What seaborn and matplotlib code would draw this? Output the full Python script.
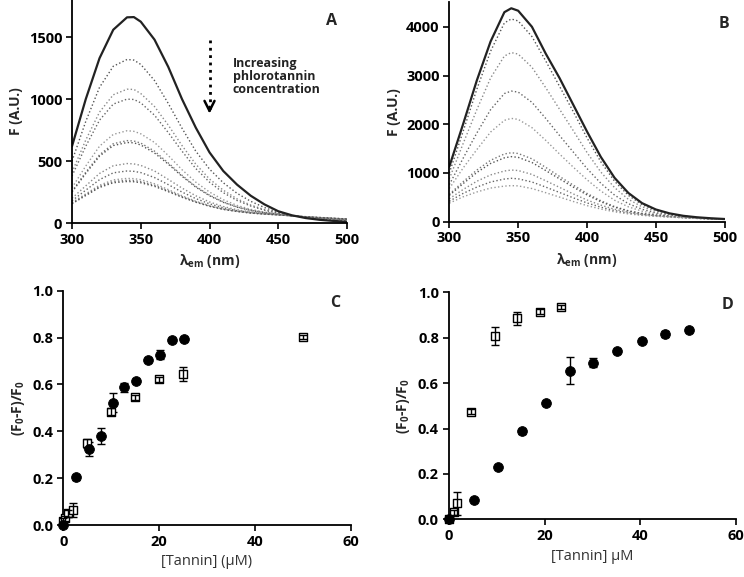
import numpy as np
import pandas as pd
import matplotlib
matplotlib.use('Agg')
import matplotlib.pyplot as plt
import seaborn as sns

sns.set_style("ticks")
plt.rcParams['font.family'] = ['Open Sans', 'DejaVu Sans']
plt.rcParams['mathtext.fontset'] = 'custom'
plt.rcParams['mathtext.rm'] = 'Open Sans'
plt.rcParams['mathtext.bf'] = 'Open Sans:bold'

# comprimentos de onda (nm)
wl = [300, 310, 320, 330, 340, 345, 350, 360, 370, 380, 390, 400,
      410, 420, 430, 440, 450, 460, 470, 480, 490, 500]

# Painel A - espectros de emissao
A_solid = [620, 1000, 1330, 1560, 1660, 1662, 1625, 1480, 1260, 1000, 770, 570,
           420, 310, 220, 150, 95, 62, 40, 26, 17, 10]
A_dotted = [
    [500, 820, 1095, 1265, 1320, 1315, 1280, 1150, 965, 765, 580, 435, 325, 240, 175, 125, 85, 60, 45, 35, 28, 22],
    [410, 670, 895, 1035, 1080, 1078, 1045, 940, 790, 625, 475, 355, 265, 195, 145, 108, 80, 60, 47, 37, 30, 24],
    [380, 620, 830, 960, 1000, 997, 970, 870, 730, 580, 440, 330, 245, 182, 137, 103, 78, 60, 47, 38, 31, 25],
    [285, 460, 620, 715, 745, 740, 720, 650, 545, 430, 330, 250, 188, 142, 110, 88, 72, 58, 48, 40, 33, 27],
    [255, 410, 550, 640, 665, 662, 645, 580, 485, 385, 295, 225, 170, 130, 103, 84, 70, 58, 48, 40, 34, 28],
    [250, 400, 540, 625, 650, 647, 630, 565, 475, 377, 290, 220, 167, 128, 101, 83, 70, 58, 48, 41, 34, 28],
    [200, 300, 400, 462, 480, 477, 465, 420, 352, 282, 220, 170, 133, 107, 89, 77, 68, 58, 49, 42, 36, 30],
    [180, 265, 350, 405, 420, 417, 407, 367, 310, 250, 197, 155, 123, 100, 85, 75, 67, 58, 50, 43, 37, 31],
    [165, 235, 305, 348, 360, 358, 350, 317, 270, 220, 176, 140, 113, 95, 82, 73, 66, 58, 50, 44, 38, 32],
    [160, 228, 295, 335, 345, 343, 335, 305, 260, 213, 171, 137, 111, 94, 81, 72, 66, 58, 51, 44, 38, 32],
    [155, 222, 287, 325, 335, 333, 325, 296, 253, 208, 168, 135, 110, 93, 80, 72, 65, 58, 51, 45, 39, 33],
]

# Painel B - espectros de emissao
B_solid = [1130, 2000, 2900, 3700, 4300, 4380, 4330, 4000, 3450, 2950, 2400, 1850,
           1330, 900, 590, 380, 250, 170, 120, 90, 70, 55]
B_dotted = [
    [1000, 1850, 2720, 3500, 4080, 4160, 4120, 3800, 3300, 2780, 2260, 1720, 1230, 830, 540, 350, 230, 160, 115, 85, 65, 50],
    [880, 1600, 2300, 2950, 3400, 3470, 3440, 3170, 2750, 2310, 1870, 1420, 1020, 700, 460, 305, 210, 150, 110, 82, 63, 50],
    [760, 1300, 1820, 2300, 2630, 2680, 2660, 2450, 2120, 1770, 1430, 1090, 790, 545, 370, 255, 180, 135, 100, 78, 62, 50],
    [680, 1100, 1480, 1840, 2080, 2120, 2100, 1930, 1670, 1390, 1120, 860, 630, 440, 305, 215, 160, 122, 95, 76, 60, 50],
    [560, 820, 1060, 1260, 1390, 1415, 1400, 1290, 1115, 930, 750, 580, 430, 310, 225, 170, 135, 110, 88, 72, 58, 48],
    [540, 780, 1010, 1195, 1310, 1335, 1320, 1215, 1050, 880, 710, 550, 410, 298, 218, 165, 132, 108, 87, 71, 58, 48],
    [470, 660, 830, 960, 1040, 1060, 1050, 970, 840, 705, 570, 445, 340, 255, 193, 150, 122, 102, 84, 69, 57, 47],
    [420, 580, 710, 815, 875, 890, 880, 815, 710, 600, 490, 385, 298, 228, 176, 140, 116, 98, 82, 68, 56, 47],
    [380, 510, 610, 690, 730, 740, 735, 680, 595, 505, 415, 330, 260, 203, 160, 130, 110, 94, 80, 67, 56, 46],
]

# Painel C - supressao
C_circ_x = [0, 2.6, 5.4, 7.8, 10.3, 12.7, 15.2, 17.7, 20.2, 22.7, 25.1]
C_circ_y = [0.0, 0.204, 0.323, 0.381, 0.522, 0.588, 0.615, 0.705, 0.727, 0.790, 0.795]
C_circ_e = [0.005, 0.01, 0.03, 0.035, 0.04, 0.02, 0.01, 0.01, 0.02, 0.01, 0.008]
C_sq_x = [0, 0.35, 1.0, 2.0, 5.0, 10.0, 15.0, 20.0, 25.0, 50.0]
C_sq_y = [0.018, 0.029, 0.05, 0.065, 0.349, 0.484, 0.545, 0.622, 0.645, 0.803]
C_sq_e = [0.01, 0.01, 0.015, 0.03, 0.02, 0.015, 0.01, 0.01, 0.03, 0.01]

# Painel D - supressao
D_circ_x = [0, 5.2, 10.3, 15.3, 20.2, 25.2, 30.1, 35.2, 40.3, 45.2, 50.2]
D_circ_y = [0.0, 0.085, 0.231, 0.388, 0.514, 0.655, 0.689, 0.741, 0.787, 0.816, 0.834]
D_circ_e = [0.005, 0.005, 0.005, 0.012, 0.008, 0.058, 0.02, 0.01, 0.008, 0.015, 0.008]
D_sq_x = [0, 1.0, 1.8, 4.7, 9.6, 14.3, 19.0, 23.5]
D_sq_y = [0.0, 0.03, 0.07, 0.474, 0.808, 0.885, 0.915, 0.934]
D_sq_e = [0.005, 0.01, 0.05, 0.01, 0.04, 0.03, 0.01, 0.008]

greys = ['#555555', '#8a8a8a', '#666666', '#999999', '#777777']

fig = plt.figure(figsize=(7.44, 5.77), dpi=100)
axA = fig.add_axes([0.0968, 0.6135, 0.3696, 0.3865])
axB = fig.add_axes([0.6039, 0.6158, 0.3702, 0.3800])
axC = fig.add_axes([0.0851, 0.0901, 0.3863, 0.4060])
axD = fig.add_axes([0.6031, 0.1000, 0.3866, 0.3934])

lab_kw = dict(fontsize=10, fontweight='bold')


def estilo(ax):
    sns.despine(ax=ax)
    for s in ['left', 'bottom']:
        ax.spines[s].set_linewidth(1.3)
        ax.spines[s].set_color('black')
    ax.tick_params(direction='out', length=4, width=1.2, colors='black', pad=3)
    for t in ax.get_xticklabels() + ax.get_yticklabels():
        t.set_fontsize(10.5)
        t.set_fontweight('bold')


# Gráfico A
for i, c in enumerate(A_dotted):
    sns.lineplot(x=wl, y=c, ax=axA, color=greys[i % len(greys)], lw=1.0, linestyle=':')
sns.lineplot(x=wl, y=A_solid, ax=axA, color='#222222', lw=1.6)
axA.set_xlim(300, 500)
axA.set_ylim(0, 1800)
axA.set_xticks([300, 350, 400, 450, 500])
axA.set_yticks([0, 500, 1000, 1500])
axA.set_xlabel(r'$\mathbf{\lambda_{em}}$ (nm)', **lab_kw)
axA.set_ylabel('F (A.U.)', **lab_kw)
axA.plot([400, 400], [1480, 900], color='black', lw=2, linestyle=':')
axA.annotate('', xy=(400, 860), xytext=(400, 960),
             arrowprops=dict(arrowstyle='->', lw=1.8, color='black', mutation_scale=18))
axA.text(417, 1340, 'Increasing\nphlorotannin\nconcentration', fontsize=9,
         fontweight='bold', va='top', ha='left', color='#222222', linespacing=1.0)
axA.text(0.945, 0.906, 'A', transform=axA.transAxes, fontsize=11.5, fontweight='bold',
         ha='center', va='center')
estilo(axA)

# Gráfico B
for i, c in enumerate(B_dotted):
    sns.lineplot(x=wl, y=c, ax=axB, color=greys[i % len(greys)], lw=1.0, linestyle=':')
sns.lineplot(x=wl, y=B_solid, ax=axB, color='#222222', lw=1.6)
axB.set_xlim(300, 500)
axB.set_ylim(0, 4500)
axB.set_xticks([300, 350, 400, 450, 500])
axB.set_yticks([0, 1000, 2000, 3000, 4000])
axB.set_xlabel(r'$\mathbf{\lambda_{em}}$ (nm)', **lab_kw)
axB.set_ylabel('F (A.U.)', **lab_kw)
axB.text(0.996, 0.90, 'B', transform=axB.transAxes, fontsize=11.5, fontweight='bold',
         ha='center', va='center')
estilo(axB)


def supressao(ax, cx, cy, ce, sx, sy, se):
    ax.errorbar(sx, sy, yerr=se, fmt='none', ecolor='black', elinewidth=1,
                capsize=3, capthick=1, zorder=4, clip_on=False)
    ax.errorbar(cx, cy, yerr=ce, fmt='none', ecolor='black', elinewidth=1,
                capsize=3, capthick=1, zorder=2, clip_on=False)
    sns.scatterplot(x=sx, y=sy, ax=ax, marker='s', s=32, facecolor='white',
                    edgecolor='black', linewidth=1, zorder=3, clip_on=False)
    sns.scatterplot(x=cx, y=cy, ax=ax, marker='o', s=50, color='black',
                    edgecolor='black', zorder=3, clip_on=False)
    ax.set_xlim(0, 60)
    ax.set_ylim(0, 1.0)
    ax.set_xticks([0, 20, 40, 60])
    ax.set_yticks([0, 0.2, 0.4, 0.6, 0.8, 1.0])
    ax.set_yticklabels(['0.0', '0.2', '0.4', '0.6', '0.8', '1.0'])
    ax.set_ylabel(r'(F$_{\mathbf{0}}$-F)/F$_{\mathbf{0}}$', **lab_kw)


# Gráfico C
supressao(axC, C_circ_x, C_circ_y, C_circ_e, C_sq_x, C_sq_y, C_sq_e)
axC.set_xlabel('[Tannin] (\u03bcM)', fontsize=10.5, color='#333333')
axC.text(0.945, 0.948, 'C', transform=axC.transAxes, fontsize=11.5, fontweight='bold',
         ha='center', va='center')
estilo(axC)

# Gráfico D
supressao(axD, D_circ_x, D_circ_y, D_circ_e, D_sq_x, D_sq_y, D_sq_e)
axD.set_xlabel('[Tannin] \u03bcM', fontsize=10.5, color='#333333')
axD.text(0.971, 0.944, 'D', transform=axD.transAxes, fontsize=11.5, fontweight='bold',
         ha='center', va='center')
estilo(axD)

fig.savefig('out.png', dpi=100)
